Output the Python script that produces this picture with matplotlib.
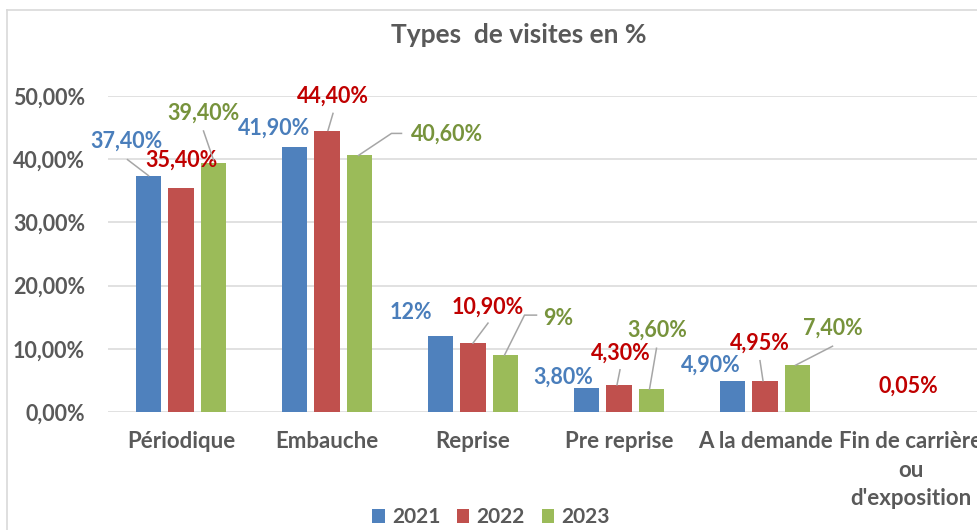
import numpy as np
import matplotlib
matplotlib.use("Agg")
import matplotlib.pyplot as plt
from matplotlib.lines import Line2D
from matplotlib.transforms import IdentityTransform
from matplotlib.patches import Patch

plt.rcParams['font.family'] = ['Lato', 'DejaVu Sans']

# ---------------- data ----------------
categories = ["Périodique", "Embauche", "Reprise", "Pre reprise", "A la demande",
              "Fin de carrière\nou\nd'exposition"]
years = ["2021", "2022", "2023"]
v2021 = [37.4, 41.9, 12.0, 3.8, 4.9, np.nan]
v2022 = [35.4, 44.4, 10.9, 4.3, 4.95, 0.05]
v2023 = [39.4, 40.6, 9.0, 3.6, 7.4, np.nan]
yticks = [0, 10, 20, 30, 40, 50]
title = "Types  de visites en %"

# ---------------- style ----------------
W, H, DPI = 977, 530, 100
bar_colors = ["#4F81BD", "#C0504D", "#9BBB59"]
label_colors = ["#4A7EBB", "#C00000", "#77933C"]
grey_text = "#595959"
grid_col = "#D9D9D9"
leader_col = "#A6A6A6"

# label offsets from bar top (pixels, dx right, dy up)
label_off = [
    [(-22, 34), (-20, 19), (-30, 24), (-23, 11), (-22, 16), None],
    [(0, 28), (6, 35), (15, 36), (2, 32), (-5, 38), (-3, 25)],
    [(-10, 50), (88, 21), (53, 37), (6, 59), (35, 37), None],
]
# leader polylines (pixels relative to bar top)
leaders = [
    [[(-21, 16), (0, 0)], None, None, None, None, None],
    [None, [(6, 18), (1, 1)], [(15, 20), (0, 0)], [(1, 15), (-2, 0)], [(-5, 20), (-2, 0)], None],
    [[(-10, 32), (0, 3)], [(42, 22), (32, 22), (-1, 0)], [(31, 40), (19, 40), (-1, 0)],
     [(5, 41), (-2, 0)], [(35, 19), (-2, 0)], None],
]

def fmt(v):
    if float(v).is_integer():
        return f"{int(v)}%"
    return f"{v:.2f}%".replace(".", ",")

fig = plt.figure(figsize=(W / DPI, H / DPI), dpi=DPI)
fig.patch.set_facecolor("white")

ax_left, ax_right, ax_bottom, ax_top = 108, 984, 412, 96
ax = fig.add_axes([ax_left / W, 1 - ax_bottom / H, (ax_right - ax_left) / W, (ax_bottom - ax_top) / H])
ax.set_xlim(-0.5, len(categories) - 0.5)
ax.set_ylim(0, 50)

x = np.arange(len(categories))
series = [v2021, v2022, v2023]
width = 0.178
step = 0.2226
for k, vals in enumerate(series):
    ax.bar(x + (k - 1) * step, np.nan_to_num(vals), width, color=bar_colors[k], zorder=3,
           label=years[k])

ax.set_yticks(yticks)
ax.set_yticklabels([f"{t},00%" for t in yticks])
ax.set_xticks(x)
ax.set_xticklabels(categories, linespacing=1.42)
ax.tick_params(axis="both", length=0, labelcolor=grey_text)
ax.tick_params(axis="y", pad=16.5, labelsize=15.5)
ax.tick_params(axis="x", pad=14, labelsize=16)
for lab in ax.get_xticklabels() + ax.get_yticklabels():
    lab.set_fontweight("bold")
for s in ax.spines.values():
    s.set_visible(False)
ax.yaxis.grid(True, color=grid_col, linewidth=1.1, zorder=0)
ax.set_axisbelow(True)
ax.patch.set_alpha(0)

fig.canvas.draw()
tr = ax.transData
for k, vals in enumerate(series):
    for i, v in enumerate(vals):
        if np.isnan(v):
            continue
        bx, by = tr.transform((x[i] + (k - 1) * step, v))
        off = label_off[k][i]
        if off is not None:
            fig.text((bx + off[0]) / W, (by + off[1]) / H, fmt(v), ha="center", va="center",
                     color=label_colors[k], fontsize=15.5, fontweight="bold")
        ld = leaders[k][i]
        if ld is not None:
            xs = [bx + p[0] for p in ld]
            ys = [by + p[1] for p in ld]
            fig.add_artist(Line2D(xs, ys, transform=IdentityTransform(), color=leader_col,
                                  linewidth=1.1, zorder=4))

fig.text(519 / W, 1 - 35 / H, title, ha="center", va="center", color=grey_text,
         fontsize=19, fontweight="bold")

handles = [Patch(facecolor=c, edgecolor="none") for c in bar_colors]
fig.legend(handles, years, loc="center", bbox_to_anchor=(491 / W, 1 - 517 / H), ncol=3,
           frameon=False, handlelength=0.6, handleheight=0.65, handletextpad=0.35,
           columnspacing=0.8, prop={"size": 15, "weight": "bold"}, labelcolor=grey_text,
           borderaxespad=0, borderpad=0)

# chart frame (left and top edges visible)
fig.add_artist(Line2D([7 / W, 7 / W], [0, 1 - 10 / H], color=grid_col, linewidth=1.2))
fig.add_artist(Line2D([7 / W, 1], [1 - 10 / H, 1 - 10 / H], color=grid_col, linewidth=1.2))

fig.savefig("out.png", dpi=DPI, facecolor="white")
